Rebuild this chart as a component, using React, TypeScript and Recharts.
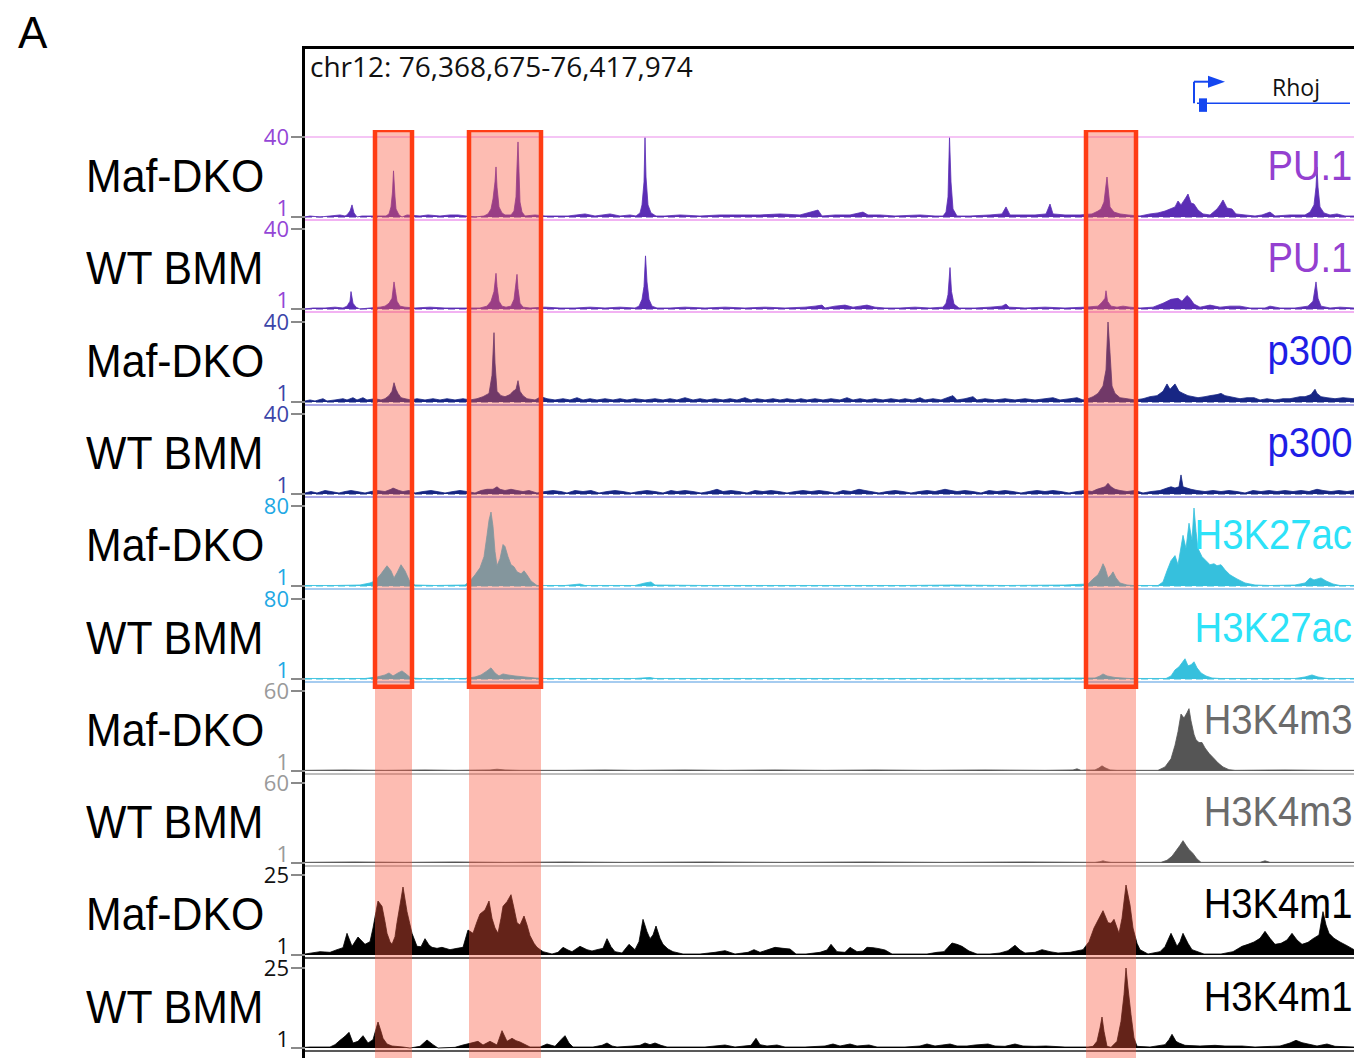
import React from "react";
import {
  AreaChart,
  Area,
  XAxis,
  YAxis,
  ReferenceLine,
  ReferenceArea,
  ComposedChart,
  Line,
  Scatter,
} from "recharts";

type Pt = [number, number];

// Genomic window chr12:76,368,675-76,417,974 binned into 1049 bins (~47 bp each)
const binCount = 1049;
const locusLabel = "chr12: 76,368,675-76,417,974";
const geneName = "Rhoj";
const geneTss = 889;
const geneEnd = 1045;
const geneExonStart = 894;
const geneExonEnd = 902;

// highlighted regions (bins)
const regionStart = [70, 164, 781];
const regionEnd = [107, 236, 831];

const trackSamples = [
  "Maf-DKO", "WT BMM", "Maf-DKO", "WT BMM", "Maf-DKO",
  "WT BMM", "Maf-DKO", "WT BMM", "Maf-DKO", "WT BMM",
];
const trackMarks = [
  "PU.1", "PU.1", "p300", "p300", "H3K27ac",
  "H3K27ac", "H3K4m3", "H3K4m3", "H3K4m1", "H3K4m1",
];
const trackMax = [40, 40, 40, 40, 80, 80, 60, 60, 25, 25];
const trackMin = 1;

const pu1Dko: Pt[] = [[0,1],[5,1.5],[15,1],[25,1.5],[35,2],[40,1.5],[42,2],[45,3.9],[47,6.9],[49,3],[52,1],[57,1.5],[67,1.5],[75,1.5],[81,1.5],[84,2.5],[86,5.9],[87.5,13.2],[88.5,23.5],[90,10.8],[91,4.9],[94,2],[97,1],[102,2],[115,1.5],[123,2],[135,1.5],[145,2],[153,2],[170,1],[179,1.5],[183,2.5],[186,4.9],[188,9.8],[190,18.1],[191,25.4],[192,15.6],[194,5.9],[197,3],[200,2],[206,2],[209,3.9],[211,10.8],[212,25.4],[213,37.6],[214,23],[215,8.3],[217,3.4],[220,1.5],[230,2],[240,1.5],[250,1.5],[263,1.5],[280,2.5],[290,1.5],[305,2.5],[315,1.5],[325,2],[331,1.5],[335,3],[337,6.9],[339,18.1],[340,40],[341,20.5],[343,6.9],[346,3],[351,1.5],[360,1.5],[375,2],[395,1.5],[415,2],[435,2],[455,2],[475,2.5],[495,2],[513,4.4],[517,1.5],[530,2],[545,2],[558,3.4],[563,2],[575,2],[590,1.5],[615,2],[630,1.5],[638,1.5],[641,3.4],[643,10.8],[644.5,40],[646,18.1],[648,4.9],[652,1.5],[665,1.5],[685,2],[697,2.5],[701,5.9],[705,2],[715,2],[730,2],[741,2.5],[745,7.3],[748,2.5],[760,2],[775,2],[787,2.5],[793,3.9],[796,4.9],[799,8.3],[801,16.6],[802,20.5],[803.5,13.2],[805,5.9],[809,3.4],[815,2.5],[823,2],[835,1.5],[845,2.5],[853,3],[860,3.9],[865,4.9],[870,5.9],[873,8.8],[876,6.9],[880,9.8],[883,12.2],[886,7.8],[889,7.3],[893,4.4],[898,2.5],[905,2],[912,4.9],[915,6.9],[918,9.3],[922,5.4],[927,4.9],[931,2.5],[940,2],[950,1.5],[957,2],[965,3.4],[970,1.5],[985,2],[1000,2],[1005,3.4],[1009,6.9],[1011,15.6],[1012,25.4],[1013,15.6],[1015,5.9],[1019,3],[1025,2],[1032,2.5],[1040,1.5],[1049,1.5]];

const pu1Wt: Pt[] = [[0,1],[8,1.5],[20,1.5],[30,1.9],[38,1.5],[42,2.4],[45,4.8],[46,9.5],[48,3.8],[51,1.9],[55,1],[65,1.5],[75,1.9],[80,2.4],[84,3.8],[87,6.2],[89,14.2],[90.5,9.5],[92,4.8],[95,2.4],[100,1.9],[110,1.5],[125,1.9],[140,1.5],[155,1.5],[175,1.5],[182,2.4],[186,4.8],[189,9.5],[191,18.4],[192,12],[194,4.8],[197,2.4],[201,1.9],[206,2.4],[209,5.7],[212,17.9],[213,11],[215,3.8],[218,1.9],[225,1.5],[240,1.9],[255,1.5],[270,1.5],[285,1.9],[300,1.5],[315,1.9],[330,1.5],[334,2.4],[337,5.7],[339,12],[340.5,26.9],[342,14.2],[344,5.7],[347,2.4],[352,1.5],[365,1.5],[380,1.9],[400,1.5],[420,1.9],[440,1.5],[460,1.9],[480,1.5],[500,1.9],[510,2.4],[517,2.9],[520,1.5],[530,2.4],[540,2.9],[548,1.9],[555,2.4],[562,2.9],[570,1.9],[580,1.5],[595,1.5],[610,1.9],[625,1.5],[638,1.9],[641,3.8],[643,8],[645,21.2],[646.5,9.5],[649,3.4],[654,1.5],[670,1.5],[685,1.9],[697,2.4],[701,3.4],[704,1.9],[720,1.5],[740,1.9],[760,1.5],[780,1.9],[793,2.4],[797,4.3],[800,6.2],[801,9.9],[802.5,4.8],[806,2.4],[812,1.9],[818,2.4],[825,1.9],[835,1.5],[848,1.9],[858,3.8],[866,5.7],[873,6.2],[877,4.8],[882,7.6],[885,6.2],[889,3.4],[895,1.9],[905,2.9],[915,1.9],[925,2.4],[935,2.4],[945,1.5],[960,1.5],[965,2.4],[975,1.5],[990,1.5],[1003,2.4],[1008,4.8],[1011,14.2],[1013,6.2],[1016,2.4],[1025,1.5],[1035,1.9],[1049,1.5]];

const p300Dko: Pt[] = [[0,1.5],[5,2],[10,1.5],[18,2.6],[22,1.5],[30,2],[38,2.6],[42,2],[48,3.1],[52,2],[58,3.1],[62,2],[70,2.6],[76,2],[80,2.6],[84,4.1],[87,6.2],[89,10.4],[91,7.2],[93,5.2],[96,3.1],[100,2.6],[106,2],[112,2.6],[120,2],[128,2.6],[135,2],[142,2.6],[150,2],[158,2.6],[165,2],[172,2.6],[178,3.6],[184,5.2],[187,14],[189,34.8],[190,20],[192,6.2],[196,4.1],[200,3.6],[205,4.6],[208,6.2],[211,7.2],[213,11.4],[215,6.2],[218,4.1],[222,2.6],[230,2],[236,3.6],[242,2.6],[250,2],[258,2.6],[265,2],[272,3.1],[278,2],[285,2.6],[292,2],[300,2.6],[308,2],[315,2.6],[322,2],[330,2.6],[340,2],[350,2.6],[358,2],[365,2.6],[372,2],[380,3.1],[388,2],[395,2.6],[402,2],[410,2.6],[418,2],[425,2.6],[432,2],[440,3.1],[446,2],[452,2.6],[460,2],[468,2.6],[475,2],[482,2.6],[490,2],[496,2.6],[502,2],[510,2.6],[518,2],[526,2.6],[535,2],[542,3.1],[548,2],[555,2.6],[562,2],[570,2.6],[578,2],[586,2.6],[594,2],[600,2.6],[608,2],[615,3.1],[620,2],[628,2.6],[636,2],[645,3.6],[648,4.1],[652,2],[660,2.6],[668,3.6],[672,2],[680,2.6],[690,2],[700,2.6],[710,2],[720,2.6],[730,2],[740,2.6],[748,3.1],[755,2],[765,2.6],[772,3.1],[778,2],[783,2.6],[788,3.6],[793,5.2],[798,8.8],[801,16.6],[803,40],[805,25],[807,8.8],[810,5.2],[815,3.1],[822,2.6],[830,2],[838,2.6],[845,3.6],[852,4.1],[858,6.2],[862,9.8],[865,7.2],[870,9.8],[874,6.2],[878,5.2],[883,4.1],[888,3.6],[893,3.1],[900,3.6],[905,4.1],[912,4.6],[916,5.2],[920,4.1],[925,3.6],[930,3.1],[935,2.6],[942,3.1],[949,3.1],[955,2],[962,2.6],[970,2],[978,2.6],[985,2.6],[990,3.1],[995,3.6],[1000,3.6],[1006,4.6],[1010,7.2],[1012,5.2],[1016,3.6],[1022,3.1],[1030,2.6],[1038,3.1],[1049,2.6]];

const p300Wt: Pt[] = [[0,1.5],[6,2.2],[12,1.5],[20,2.7],[26,2.2],[34,1.5],[40,2.2],[46,2.7],[52,2.2],[60,1.5],[66,2.2],[72,2.7],[80,2.2],[86,3.3],[88,3.9],[91,3.3],[94,2.7],[98,2.2],[104,2.7],[110,1.5],[118,2.2],[126,2.7],[132,2.2],[140,1.5],[148,2.2],[155,2.7],[162,2.2],[170,1.5],[176,2.7],[182,3.3],[188,3.3],[192,4.5],[195,3.3],[200,2.7],[206,3.3],[212,2.7],[218,2.2],[224,2.7],[232,1.5],[240,2.2],[248,2.7],[256,2.2],[262,1.5],[270,2.7],[278,2.2],[286,2.7],[294,1.5],[302,2.2],[310,2.7],[318,2.2],[326,1.5],[334,2.2],[342,2.7],[350,2.2],[358,1.5],[366,2.7],[372,2.2],[380,2.7],[388,2.2],[396,1.5],[404,2.2],[412,3.3],[418,2.2],[426,2.7],[434,2.2],[442,1.5],[450,2.7],[458,2.2],[466,2.7],[474,2.2],[482,1.5],[490,2.2],[498,2.7],[506,2.2],[514,2.7],[522,2.2],[530,1.5],[538,2.7],[546,2.2],[554,3.3],[560,2.7],[566,2.2],[574,1.5],[582,2.2],[590,2.7],[598,2.2],[606,1.5],[614,2.2],[622,2.7],[630,2.2],[640,3.3],[646,2.7],[652,2.2],[660,2.7],[668,2.2],[676,1.5],[684,2.7],[692,2.2],[700,2.7],[708,2.2],[716,1.5],[724,2.2],[732,2.7],[740,2.2],[748,2.7],[756,2.2],[764,1.5],[772,2.2],[780,2.7],[787,2.2],[792,3.3],[796,3.9],[800,4.5],[803,6.2],[806,4.5],[810,3.3],[815,2.7],[822,2.2],[830,2.7],[838,1.5],[846,2.2],[855,2.7],[862,3.9],[866,4.5],[870,3.9],[874,4.5],[876,10.3],[878,4.5],[882,3.9],[886,3.3],[892,2.7],[900,2.2],[908,2.7],[916,2.2],[924,2.7],[932,2.2],[940,1.5],[948,2.7],[956,2.2],[964,2.7],[972,2.2],[980,2.7],[988,2.2],[996,2.7],[1004,2.2],[1012,3.3],[1018,2.7],[1026,2.2],[1034,2.7],[1042,2.2],[1049,2.7]];

const h3k27acDko: Pt[] = [[0,1.5],[30,1.5],[55,2],[65,4],[70,6],[76,13],[82,21],[86,16],[89,9],[92,14],[96,22],[100,16],[105,5],[110,2],[130,1.5],[160,2],[165,6],[170,12],[175,19],[179,30],[182,51],[184,66],[186,74],[188,60],[190,35],[192,21],[195,28],[198,42],[200,40],[203,30],[206,22],[209,20],[212,15],[216,13],[219,16],[222,12],[226,6],[232,1.5],[260,1.5],[275,3],[280,1.5],[330,1.5],[340,4],[346,5],[350,2],[400,1.5],[500,1.5],[600,1.5],[649,2],[700,1.5],[760,2],[783,3],[788,8],[793,12],[796,18],[798,23],[800,19],[803,9],[806,12],[808,15],[811,9],[815,4],[822,2],[828,1.5],[853,1.5],[858,5],[862,16],[866,26],[870,31],[873,22],[878,51],[881,38],[884,63],[887,46],[889,78],[891,55],[893,38],[897,30],[901,26],[905,22],[909,23],[912,21],[916,22],[920,17],[925,12],[932,8],[940,4],[950,2],[965,1.5],[990,2],[1000,4],[1005,9],[1009,7],[1016,9],[1021,6],[1028,3],[1035,1.5],[1049,1.5]];

const h3k27acWt: Pt[] = [[0,1.5],[60,1.5],[72,3],[80,5],[84,7],[88,4],[93,7],[97,9],[101,6],[106,2],[115,1.5],[160,1.5],[170,3],[176,5],[182,9],[186,12],[190,7],[194,4],[198,6],[203,5],[210,4],[220,3],[230,2],[240,1.5],[330,1.5],[345,2.5],[350,1.5],[600,1.5],[790,2],[795,4],[798,6],[802,4],[810,2.5],[825,1.5],[861,1.5],[866,4],[870,10],[874,13],[877,17],[880,21],[883,14],[886,15],[889,18],[892,12],[896,7],[901,4],[907,2],[915,1.5],[990,1.5],[1000,3],[1007,5],[1013,3],[1022,1.5],[1049,1.5]];

const h3k4m3Dko: Pt[] = [[0,1.5],[40,1.8],[80,1.5],[120,1.8],[150,1.5],[185,1.8],[192,2.3],[200,1.8],[215,1.5],[260,1.5],[300,1.8],[330,1.5],[380,1.8],[420,1.5],[470,1.8],[520,1.5],[570,1.8],[620,1.5],[680,1.8],[740,1.5],[768,1.8],[772,2.6],[776,1.5],[790,1.8],[794,3.2],[797,4.8],[800,3.4],[805,1.8],[812,1.5],[853,1.5],[860,4],[866,10],[870,20],[873,30],[876,43],[879,40],[882,44],[884,47],[886,38],[889,28],[891,24],[894,22],[897,22],[900,18],[904,14],[908,11],[913,7],[918,4],[924,2],[930,1.5],[980,1.8],[1020,1.5],[1049,1.5]];

const h3k4m3Wt: Pt[] = [[0,1.5],[50,1.8],[100,1.5],[150,1.8],[200,1.5],[260,1.8],[320,1.5],[400,1.8],[480,1.5],[560,1.8],[640,1.5],[720,1.8],[790,1.5],[795,2],[798,2.6],[801,2],[806,1.5],[856,1.5],[862,3],[867,6],[871,10],[875,14],[878,17.5],[881,14],[884,11],[888,8],[892,4],[896,1.5],[955,1.5],[960,2.6],[965,1.5],[1049,1.5]];

const h3k4m1Dko: Pt[] = [[0,1.3],[15,2],[25,1.8],[32,2.6],[38,3.2],[42,7.5],[47,3.6],[53,6.4],[60,4.2],[65,5],[68,9.1],[71,14],[73,17.2],[77,15.6],[80,11],[82,7.5],[85,5],[87,4.2],[90,6.5],[92,10.7],[95,16],[98,21.4],[102,14],[107,7.5],[112,3.6],[116,3.5],[120,5.9],[124,4],[127,3.3],[132,3],[137,3.3],[145,2.6],[152,3],[158,3.3],[163,8.5],[168,7.5],[172,11],[175,13.3],[180,14.5],[184,17.2],[187,12],[190,9.1],[193,7.5],[196,12],[198,15.6],[202,17],[206,19.1],[209,15],[212,10.7],[215,10],[219,12.7],[222,10],[225,6.8],[229,4.5],[232,3.3],[238,2],[247,1.3],[253,1.8],[258,3.3],[263,2.5],[267,2],[275,3.6],[282,2.6],[287,2.2],[292,2.6],[298,3],[302,5.9],[306,3.5],[310,2],[317,1.6],[324,4.2],[330,2.6],[334,5],[338,11.7],[342,8],[345,5.9],[348,7],[351,9.7],[355,6],[358,4.2],[363,2.8],[368,2],[378,1.3],[395,1.3],[410,1.8],[420,2.3],[430,1.3],[443,1.8],[449,2.6],[455,1.8],[462,2.5],[470,3.3],[478,3],[485,2.8],[491,1.3],[501,1.3],[515,1.8],[522,2.5],[526,4.2],[532,2],[540,1.8],[545,3.3],[552,2],[558,2.2],[562,3.3],[568,3.2],[574,2.9],[580,2.5],[587,1.3],[614,1.3],[622,1.3],[632,1.8],[639,2],[643,3.3],[647,4.6],[652,4.2],[657,3.6],[664,2.2],[672,1.3],[685,1.3],[695,1.6],[703,2.3],[710,3.9],[715,2.5],[720,1.6],[730,1.8],[737,2.6],[745,2],[753,1.6],[765,1.8],[778,2.6],[784,5],[789,9.1],[794,12],[798,14.3],[803,10.7],[806,10.5],[809,11.7],[814,7.5],[817,12],[821,22],[825,16],[828,9.1],[832,4.5],[835,2.6],[843,1.3],[855,2],[860,3.5],[866,7.5],[870,5],[872,3.6],[875,5],[878,7.5],[883,4.5],[887,2.6],[899,1.3],[916,1.3],[928,2],[937,3.6],[943,4.2],[949,4.9],[955,6],[960,8.1],[965,6],[970,4.2],[976,4.5],[982,5.5],[987,7.5],[992,5.5],[997,4.2],[1003,4.8],[1008,5.9],[1014,7],[1018,14],[1021,10],[1024,7.5],[1029,6],[1035,4.9],[1042,3.8],[1049,2.6]];

const h3k4m1Wt: Pt[] = [[0,1.2],[5,1.3],[25,1.3],[30,2],[35,3.3],[40,4.5],[44,5.7],[48,2.5],[53,3],[58,4.7],[63,2.5],[68,3.5],[73,8.8],[76,6],[78,3.9],[82,2.2],[87,1.6],[98,1.3],[105,1],[115,1.5],[122,3.4],[128,2],[133,1],[150,1.2],[158,1.9],[165,2.4],[173,3],[178,1.9],[185,3],[192,1.9],[197,6.2],[202,3],[207,3.9],[211,3.2],[215,2.8],[225,1.3],[235,1.3],[242,2.2],[250,1.5],[256,3.5],[260,4.7],[264,2.5],[268,1.3],[288,1.3],[297,1.8],[302,2.5],[307,1.6],[312,1.3],[328,1.6],[335,1.8],[340,2.5],[345,2],[350,2.5],[356,1.8],[362,1.3],[378,1.3],[400,1.3],[420,1.9],[430,1.3],[446,1.8],[451,3.9],[455,2],[462,1.6],[472,1.9],[480,1.3],[500,1.3],[520,1.6],[528,2.2],[535,1.6],[545,2.2],[552,1.6],[564,1.9],[572,1.3],[600,1.3],[615,1.6],[622,2.2],[630,1.6],[645,2.2],[652,1.6],[662,1.6],[670,1.9],[683,2.2],[690,1.6],[700,1.5],[710,2.2],[718,1.6],[730,1.5],[741,1.6],[760,1.3],[783,1.3],[788,1.5],[792,3],[795,7],[797,10.3],[799,6],[802,1.5],[806,1.2],[812,3],[816,9],[819,17],[821,25],[823,19],[826,11],[829,4],[832,1.5],[845,1.3],[860,2],[864,3.5],[867,5.1],[871,3],[874,2.5],[880,1.8],[895,1.6],[910,1.8],[920,1.6],[937,1.6],[950,1.3],[975,1.6],[985,2.5],[991,3.3],[997,2.6],[1003,2.2],[1012,1.6],[1022,2.2],[1030,1.5],[1049,1.3]];

const trackData: Pt[][] = [
  pu1Dko, pu1Wt, p300Dko, p300Wt, h3k27acDko,
  h3k27acWt, h3k4m3Dko, h3k4m3Wt, h3k4m1Dko, h3k4m1Wt,
];

// ---------- styles ----------
const markStyle: Record<string, { fill: string; tick: string; label: string; sep: string; dashed: boolean }> = {
  "PU.1": { fill: "#5B2DB5", tick: "#9446D6", label: "#9440D0", sep: "#F2B2F2", dashed: true },
  p300: { fill: "#172684", tick: "#3B45A8", label: "#1E1EE6", sep: "#A9A6E6", dashed: true },
  H3K27ac: { fill: "#36C0DD", tick: "#22A8E4", label: "#2CE2F8", sep: "#A6CCF0", dashed: true },
  H3K4m3: { fill: "#555555", tick: "#9A9A9A", label: "#6B6B6B", sep: "#BDBDBD", dashed: false },
  H3K4m1: { fill: "#000000", tick: "#111111", label: "#000000", sep: "#222222", dashed: false },
};

const TRACK_TOP = 130;
const TRACK_STEP = 92.3;
const PAD = 10; // extra room above each track so the top tick label is not clipped
const TRACK_H = 92 + PAD;
const CHART_LEFT = 230;
const AXIS_W = 75;
const PLOT_LEFT = CHART_LEFT + AXIS_W;
const PLOT_W = 1354 - PLOT_LEFT;
const SANS = "'Liberation Sans', Arial, Helvetica, sans-serif";
const OPEN = "'Open Sans', 'DejaVu Sans', sans-serif";

function makeTick(color: string, max: number) {
  return (props: any) => {
    const { x, y, payload } = props;
    const top = payload.value === max;
    return (
      <text x={x} y={y} dy={top ? 8 : -1} textAnchor="end" fill={color} fontSize={22} fontFamily={OPEN}>
        {payload.value}
      </text>
    );
  };
}

function Track({ i }: { i: number }) {
  const mark = trackMarks[i];
  const st = markStyle[mark];
  const max = trackMax[i];
  const dmin = trackMin - (3 * (max - trackMin)) / 80;
  const data = trackData[i].map(([x, v]) => ({ x, v }));
  const top = TRACK_TOP + i * TRACK_STEP - PAD;
  return (
    <div style={{ position: "absolute", left: CHART_LEFT, top }}>
      <AreaChart width={1354 - CHART_LEFT} height={TRACK_H} data={data} margin={{ top: 7 + PAD, right: 0, bottom: 2, left: 0 }}>
        <XAxis dataKey="x" type="number" domain={[0, binCount]} allowDataOverflow hide />
        <YAxis
          type="number"
          domain={[dmin, max]}
          allowDataOverflow
          ticks={[trackMin, max]}
          interval={0}
          width={AXIS_W}
          axisLine={false}
          tickSize={14}
          tickLine={{ stroke: "#8a8a8a", strokeWidth: 2 }}
          tick={makeTick(st.tick, max)}
        />
        <Area
          type="linear"
          dataKey="v"
          baseValue={trackMin}
          stroke={st.fill}
          strokeWidth={0.8}
          fill={st.fill}
          fillOpacity={1}
          dot={false}
          activeDot={false}
          isAnimationActive={false}
        />
        {st.dashed && (
          <ReferenceLine y={trackMin} stroke={st.fill} strokeWidth={1.2} strokeDasharray="7 4" />
        )}
        <ReferenceLine y={dmin} stroke={st.sep} strokeWidth={mark === "H3K4m1" ? 1.6 : 2} />
        {i === 0 && <ReferenceLine y={max} stroke={st.sep} strokeWidth={1.5} />}
      </AreaChart>
    </div>
  );
}

function Overlay() {
  const data = [{ x: 0, y: 0 }, { x: binCount, y: 10 }];
  return (
    <div style={{ position: "absolute", left: PLOT_LEFT, top: TRACK_TOP, pointerEvents: "none" }}>
      <ComposedChart width={PLOT_W} height={928} data={data} margin={{ top: 0, right: 0, bottom: 0, left: 0 }}>
        <XAxis dataKey="x" type="number" domain={[0, binCount]} hide />
        <YAxis dataKey="y" type="number" domain={[0, 10]} reversed hide />
        <Line dataKey="y" stroke="none" dot={false} activeDot={false} isAnimationActive={false} />
        {regionStart.map((s, k) => (
          <ReferenceArea key={"f" + k} x1={s} x2={regionEnd[k]} y1={0} y2={10} fill="#FA583E" fillOpacity={0.4} stroke="none" />
        ))}
        {regionStart.map((s, k) => (
          <ReferenceArea key={"o" + k} x1={s} x2={regionEnd[k]} y1={0} y2={6} fill="none" fillOpacity={0} stroke="#FF3C14" strokeWidth={4.5} />
        ))}
      </ComposedChart>
    </div>
  );
}

function GeneTrack() {
  const blue = "#1446F0";
  const body = 0.26;
  const arm = 0.74;
  const arrowData = [{ x: geneTss + 14, y: arm }];
  const arrowShape = (p: any) => {
    const { cx, cy } = p;
    return <polygon points={`${cx},${cy - 6} ${cx + 17},${cy} ${cx},${cy + 6}`} fill={blue} />;
  };
  return (
    <div style={{ position: "absolute", left: PLOT_LEFT, top: 70 }}>
      <ComposedChart width={PLOT_W} height={45} margin={{ top: 0, right: 0, bottom: 0, left: 0 }} data={arrowData}>
        <XAxis dataKey="x" type="number" domain={[0, binCount]} hide />
        <YAxis dataKey="y" type="number" domain={[0, 1]} hide />
        <ReferenceLine segment={[{ x: geneTss + 3, y: body }, { x: geneEnd, y: body }]} stroke={blue} strokeWidth={1.6} />
        <ReferenceArea x1={geneExonStart} x2={geneExonEnd} y1={0.07} y2={0.37} fill={blue} fillOpacity={1} stroke="none" />
        <ReferenceLine segment={[{ x: geneTss, y: body }, { x: geneTss, y: arm }]} stroke={blue} strokeWidth={2} />
        <ReferenceLine segment={[{ x: geneTss, y: arm }, { x: geneTss + 14, y: arm }]} stroke={blue} strokeWidth={2} />
        <Scatter data={arrowData} dataKey="y" shape={arrowShape} isAnimationActive={false} />
      </ComposedChart>
    </div>
  );
}

export default function App() {
  return (
    <div style={{ position: "absolute", left: 0, top: 0, width: 1354, height: 1058, overflow: "hidden", background: "#fff" }}>
      <div style={{ position: "absolute", left: 18, top: 11, fontFamily: SANS, fontSize: 44, lineHeight: "44px", color: "#000" }}>A</div>
      {/* frame */}
      <div style={{ position: "absolute", left: 302, top: 46, width: 1100, height: 1100, borderLeft: "3px solid #000", borderTop: "3px solid #000", boxSizing: "border-box" }} />
      <div style={{ position: "absolute", left: 310, top: 52, fontFamily: OPEN, fontSize: 28, lineHeight: "28px", color: "#111", whiteSpace: "nowrap" }}>
        {locusLabel}
      </div>
      <div style={{ position: "absolute", left: 1272, top: 76, fontFamily: OPEN, fontSize: 23, lineHeight: "23px", color: "#111" }}>{geneName}</div>
      <GeneTrack />
      {trackMarks.map((_, i) => (
        <Track key={i} i={i} />
      ))}
      {trackSamples.map((s, i) => (
        <div
          key={"s" + i}
          style={{
            position: "absolute",
            left: 86,
            top: TRACK_TOP + i * TRACK_STEP + 23,
            fontFamily: SANS,
            fontSize: 46,
            lineHeight: "46px",
            color: "#000",
            whiteSpace: "nowrap",
            transform: "scaleX(0.93)",
            transformOrigin: "left top",
          }}
        >
          {s}
        </div>
      ))}
      {trackMarks.map((m, i) => (
        <div
          key={"m" + i}
          style={{
            position: "absolute",
            right: 2,
            top: TRACK_TOP + i * TRACK_STEP + 15,
            fontFamily: SANS,
            fontSize: 42,
            lineHeight: "42px",
            color: markStyle[m].label,
            whiteSpace: "nowrap",
            transform: "scaleX(0.91)",
            transformOrigin: "right top",
          }}
        >
          {m}
        </div>
      ))}
      <Overlay />
    </div>
  );
}
